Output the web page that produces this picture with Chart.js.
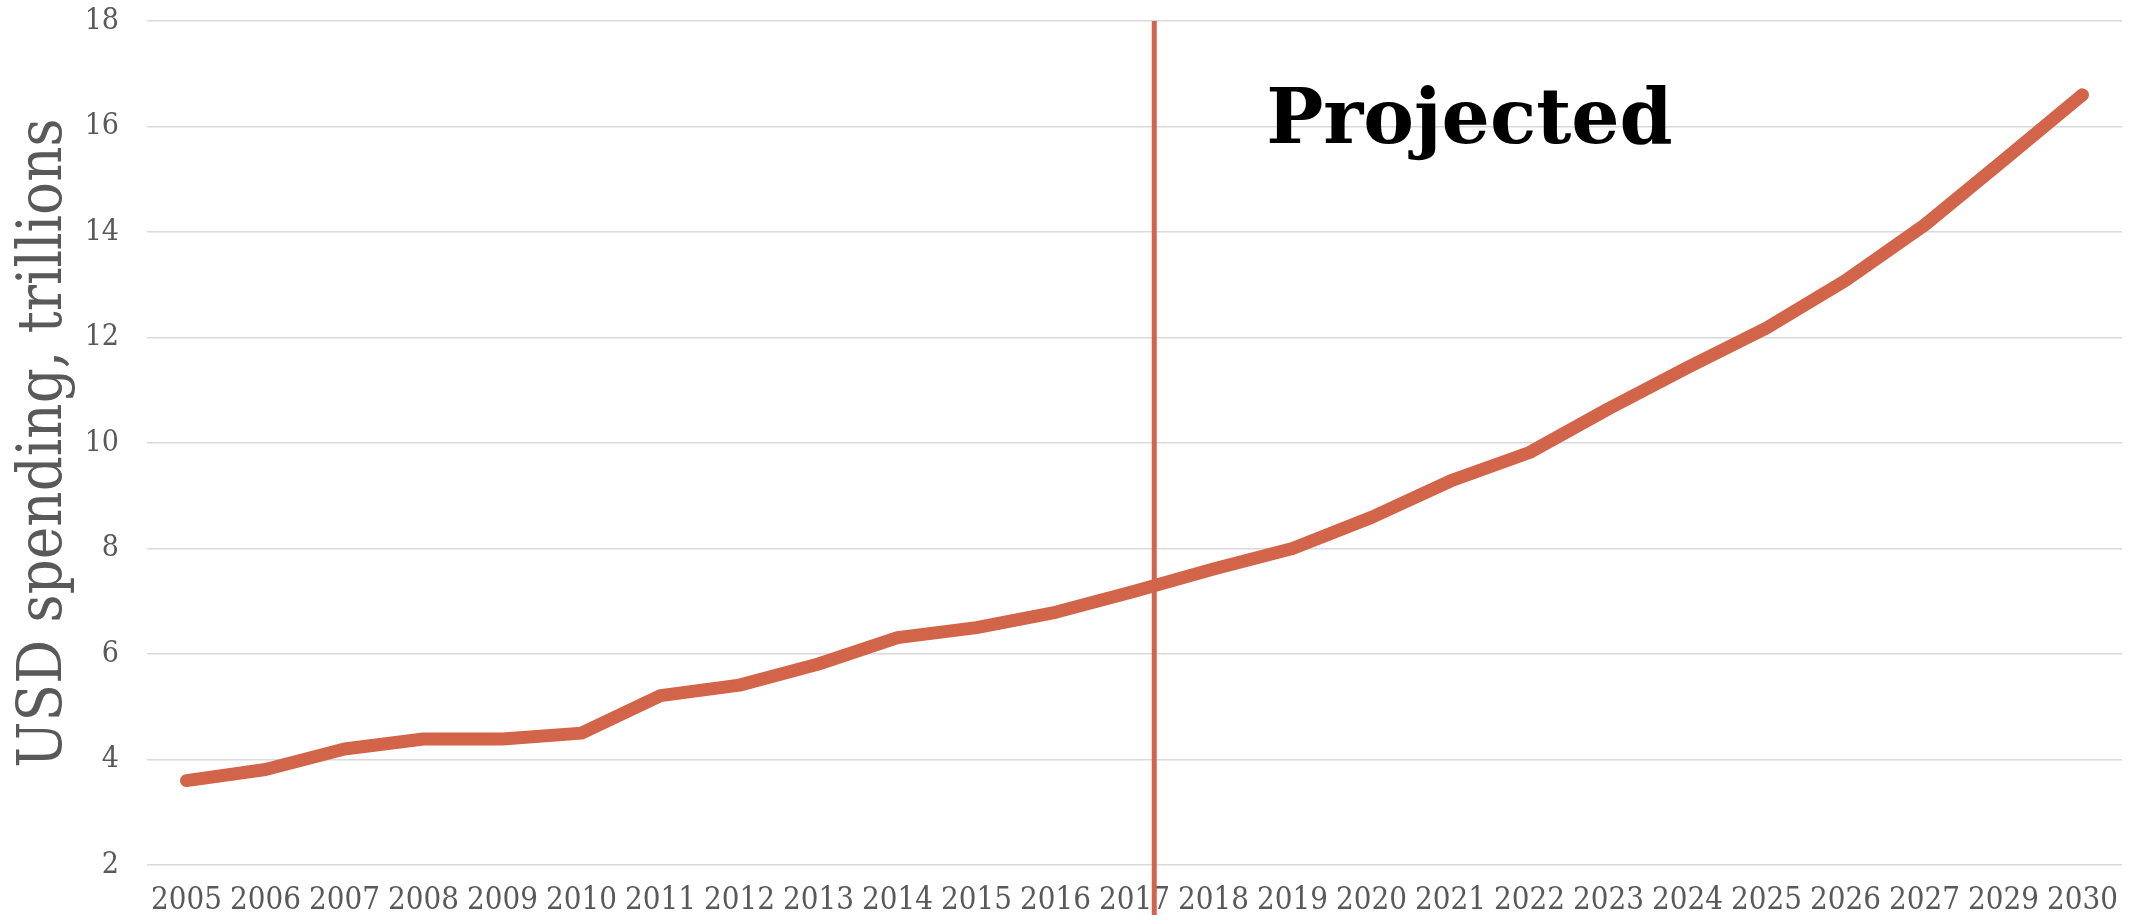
<!DOCTYPE html>
<html>
<head>
<meta charset="utf-8">
<script src="https://cdn.jsdelivr.net/npm/chart.js@4"></script>
<style>
  html, body { margin: 0; padding: 0; background: #ffffff; }
  #wrap { width: 2141px; height: 923px; }
</style>
</head>
<body>
<div id="wrap"><canvas id="c" width="2141" height="923"></canvas></div>
<script>
const years = ['2005','2006','2007','2008','2009','2010','2011','2012','2013','2014','2015','2016','2017','2018','2019','2020','2021','2022','2023','2024','2025','2026','2027','2029','2030'];
const spending = [3.60, 3.81, 4.20, 4.39, 4.39, 4.50, 5.21, 5.41, 5.81, 6.31, 6.50, 6.79, 7.19, 7.61, 8.00, 8.59, 9.28, 9.82, 10.65, 11.43, 12.18, 13.08, 14.13, 15.36, 16.60];
const yTicks = [2, 4, 6, 8, 10, 12, 14, 16, 18];
const yAxisTitle = 'USD spending, trillions';
const annotationText = 'Projected';
const projectionStartIndex = 12.25;   // between 2017 and 2018
const annotationIndex = 16.24;
const annotationValue = 15.69;

const lineColor = '#D26449';
const serif = '"DejaVu Serif Condensed", "DejaVu Serif", "Liberation Serif", serif';

function pixelForIndex(scale, idx) {
  const i0 = Math.floor(idx), f = idx - i0;
  const p0 = scale.getPixelForValue(i0);
  const p1 = scale.getPixelForValue(Math.min(i0 + 1, scale.max));
  return p0 + (p1 - p0) * f;
}

const overlay = {
  id: 'overlay',
  afterDraw(chart) {
    const ctx = chart.ctx;
    const xs = chart.scales.x, ys = chart.scales.y;
    const area = chart.chartArea;
    const lx = pixelForIndex(xs, projectionStartIndex);
    ctx.save();
    ctx.strokeStyle = lineColor;
    ctx.lineWidth = 5;
    ctx.beginPath();
    ctx.moveTo(lx, area.top);
    ctx.lineTo(lx, xs.bottom - 8);
    ctx.stroke();
    ctx.fillStyle = '#000000';
    ctx.font = 'bold 76px "DejaVu Serif", "Liberation Serif", serif';
    ctx.textAlign = 'center';
    ctx.textBaseline = 'alphabetic';
    ctx.fillText(annotationText, pixelForIndex(xs, annotationIndex), ys.getPixelForValue(annotationValue));
    ctx.restore();
  }
};

new Chart(document.getElementById('c'), {
  type: 'line',
  data: {
    labels: years,
    datasets: [{
      data: spending,
      borderColor: lineColor,
      backgroundColor: lineColor,
      borderWidth: 13,
      borderCapStyle: 'round',
      borderJoinStyle: 'round',
      pointRadius: 0,
      pointHoverRadius: 0,
      tension: 0,
      fill: false
    }]
  },
  options: {
    responsive: false,
    animation: false,
    devicePixelRatio: 1,
    layout: { autoPadding: false, padding: { top: 21, right: 19, left: 0, bottom: 0 } },
    plugins: { legend: { display: false }, tooltip: { enabled: false } },
    scales: {
      x: {
        type: 'category',
        offset: true,
        grid: { display: false, drawTicks: false },
        border: { display: false },
        ticks: {
          color: '#595959',
          font: { family: serif, size: 31 },
          padding: 17,
          maxRotation: 0,
          autoSkip: false
        },
        afterFit(scale) { scale.height = 58; scale.paddingLeft = 0; scale.paddingRight = 0; }
      },
      y: {
        min: 2,
        max: 18,
        afterBuildTicks(scale) { scale.ticks = yTicks.map(v => ({ value: v })); },
        grid: { color: '#d9d9d9', lineWidth: 1.5, drawTicks: false },
        border: { display: false },
        ticks: {
          color: '#595959',
          font: { family: serif, size: 30 },
          padding: 28
        },
        title: {
          display: true,
          text: yAxisTitle,
          color: '#595959',
          font: { family: serif, size: 61 },
          padding: { top: 9, bottom: 0 }
        },
        afterFit(scale) { scale.width = 147; scale.paddingTop = 0; scale.paddingBottom = 0; }
      }
    }
  },
  plugins: [overlay]
});
</script>
</body>
</html>
